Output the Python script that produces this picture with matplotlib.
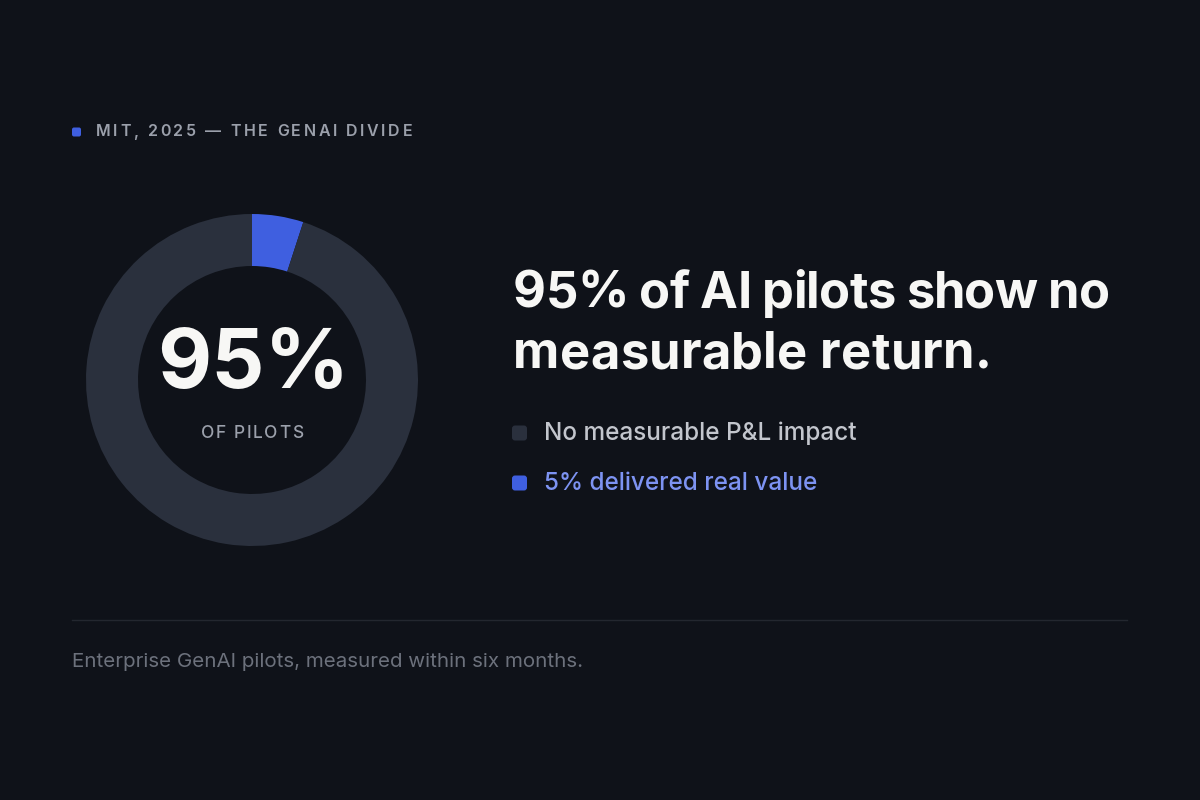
import matplotlib
matplotlib.use("Agg")
import matplotlib.pyplot as plt
from matplotlib.patches import FancyBboxPatch

# data
segment_labels = ["5% delivered real value", "No measurable P&L impact"]
segment_values = [5, 95]
headline_value = "95%"
headline_sub = "OF PILOTS"
kicker = "MIT, 2025 — THE GENAI DIVIDE"
title_lines = ["95% of AI pilots show no", "measurable return."]
footnote = "Enterprise GenAI pilots, measured within six months."

BG = "#0f1219"
RING = "#2a303d"
BLUE = "#3f5fe0"
BLUE_TXT = "#7d93f2"
WHITE = "#f7f7f5"
GREY_TXT = "#c3c6cd"
MUTED = "#9ba0ab"
FOOT = "#6c717c"
FONT = "Inter"

W, H = 1200, 800
fig = plt.figure(figsize=(12, 8), dpi=100, facecolor=BG)

# full-figure overlay in pixel coordinates
ov = fig.add_axes([0, 0, 1, 1])
ov.set_xlim(0, W)
ov.set_ylim(H, 0)
ov.axis("off")
ov.set_facecolor(BG)

# donut
cx, cy, r_out, r_in = 252, 380, 166, 114
dax = fig.add_axes([(cx - r_out) / W, (H - cy - r_out) / H, 2 * r_out / W, 2 * r_out / H])
dax.pie(segment_values, colors=[BLUE, RING], startangle=90, counterclock=False,
        radius=1, wedgeprops=dict(width=(r_out - r_in) / r_out, linewidth=0))
dax.set_xlim(-1, 1)
dax.set_ylim(-1, 1)
dax.set_aspect("equal")
dax.axis("off")

renderer = fig.canvas.get_renderer()


def tw(s, **kw):
    t = ov.text(0, 0, s, **kw)
    w = t.get_window_extent(renderer).width
    t.remove()
    return w


def tracked_text(x, y, s, spacing=0.0, width=None, align="left", **kw):
    # draw char by char keeping kerning, adding tracking in pixels
    n = len(s)
    nat = tw(s, **kw)
    if width is not None and n > 1:
        spacing = (width - nat) / (n - 1)
    total = nat + spacing * (n - 1)
    if align == "center":
        x = x - total / 2
    for i, ch in enumerate(s):
        if ch == " ":
            continue
        pos = tw(s[:i + 1], **kw) - tw(ch, **kw)
        ov.text(x + pos + i * spacing, y, ch, ha="left", va="center", **kw)


# centre labels
ov.text(cx + 1, 366, headline_value, ha="center", va="center", fontsize=60,
        fontweight="bold", color=WHITE, family=FONT)
tracked_text(cx, 434, headline_sub, spacing=1.6, align="center", fontsize=12.5,
             color=MUTED, family=FONT, fontweight="medium")

# kicker
ov.add_patch(FancyBboxPatch((72, 127.5), 9, 9, boxstyle="round,pad=0,rounding_size=2",
                            facecolor=BLUE, edgecolor="none"))
tracked_text(96, 132, kicker, width=316, fontsize=11.5, color=MUTED, family=FONT,
             fontweight="semibold")

# title
tracked_text(513, 294, title_lines[0], width=597, fontsize=36.5,
             fontweight="bold", color=WHITE, family=FONT)
tracked_text(513, 355, title_lines[1], width=479, fontsize=36.5,
             fontweight="bold", color=WHITE, family=FONT)

# legend
legend_rows = [(segment_labels[1], RING, GREY_TXT, 433),
               (segment_labels[0], BLUE, BLUE_TXT, 483)]
for label, sq, tc, y in legend_rows:
    ov.add_patch(FancyBboxPatch((512, y - 7.5), 15, 15, boxstyle="round,pad=0,rounding_size=3",
                                facecolor=sq, edgecolor="none"))
    ov.text(544, y, label, ha="left", va="center", fontsize=17.5, color=tc,
            family=FONT, fontweight="medium")

# divider + footnote
ov.plot([72, 1127], [620, 620], color="#23272f", lw=1)
ov.text(72, 662, footnote, ha="left", va="center", fontsize=14.8, color=FOOT, family=FONT)

fig.savefig("out.png", dpi=100, facecolor=BG)
